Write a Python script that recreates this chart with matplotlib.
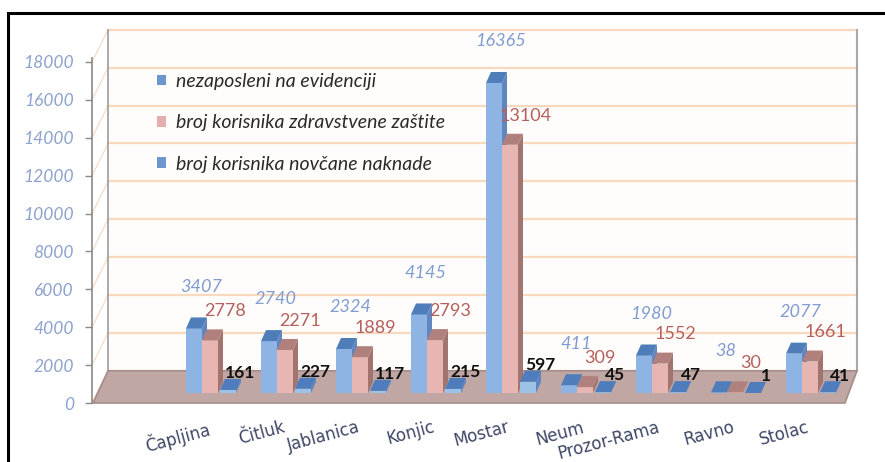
import matplotlib
matplotlib.use("Agg")
import matplotlib.pyplot as plt
from matplotlib.patches import Polygon, Rectangle, Patch

# data
opcine = ['Čapljina', 'Čitluk', 'Jablanica', 'Konjic', 'Mostar',
          'Neum', 'Prozor-Rama', 'Ravno', 'Stolac']
nezaposleni = [3407, 2740, 2324, 4145, 16365, 411, 1980, 38, 2077]
zdravstvena = [2778, 2271, 1889, 2793, 13104, 309, 1552, 30, 1661]
novcana = [161, 227, 117, 215, 597, 45, 47, 1, 41]
serije = ['nezaposleni na evidenciji',
          'broj korisnika zdravstvene zaštite',
          'broj korisnika novčane naknade']
y_ticks = list(range(0, 18001, 2000))

# pixel scale of the original picture (front axis)
PX_PER_CAT = 75.0
PX_PER_VAL = 341.0 / 18000
X0_PX = 211.0
Y0_PX = 403.0
W, H = 885, 462


def px(v):
    return v / PX_PER_CAT


def pv(v):
    return v / PX_PER_VAL


fig = plt.figure(figsize=(W / 100, H / 100), dpi=100)
ax = fig.add_axes([0, 0, 1, 1])
ax.set_xlim(-X0_PX / PX_PER_CAT, (W - X0_PX) / PX_PER_CAT)
ax.set_ylim(-(H - Y0_PX) / PX_PER_VAL, Y0_PX / PX_PER_VAL)
ax.patch.set_alpha(0)

# walls / floor
depth_x, depth_y = px(16), 1700
ax_x = px(92 - X0_PX)
wall_l, wall_r = ax_x + depth_x, px(857 - X0_PX)
wall_top = y_ticks[-1] + depth_y
ax.add_patch(Rectangle((wall_l, depth_y), wall_r - wall_l, wall_top - depth_y,
                       facecolor='#FFFDFB', edgecolor='none', zorder=0))
for t in y_ticks:
    ax.plot([wall_l, wall_r], [t + depth_y, t + depth_y], color='#F9D9BD', lw=1.6, zorder=1)
    ax.plot([ax_x, wall_l], [t, t + depth_y], color='#F6D8C0', lw=0.8, zorder=1)
ax.plot([wall_l, wall_l], [depth_y, wall_top], color='#9C9C9C', lw=1.2, zorder=1)
ax.plot([wall_r, wall_r], [depth_y, wall_top], color='#A8A8A8', lw=1.5, zorder=1)

floor_fl, floor_fr = px(93 - X0_PX), px(845 - X0_PX)
ax.add_patch(Polygon([(floor_fl, 0), (floor_fr, 0), (wall_r, depth_y), (wall_l, depth_y)],
                     closed=True, facecolor='#C0A7A3', edgecolor='#A58E8A', lw=1.2, zorder=2))

# 3d-like bars
bw = px(16)
bdx, bdy = px(5), pv(11)
base = pv(10)
styles = [
    (px(-25), '#8DB4E2', '#4F7DBA', '#5F86BF'),
    (px(-9), '#E8B6B2', '#B0807C', '#A27470'),
    (px(9), '#9CC2E8', '#4E7CBD', '#5A86C2'),
]
series = [nezaposleni, zdravstvena, novcana]
z = 3
for i in range(len(opcine)):
    for (off, front, top, side), vals in zip(styles, series):
        x0 = i + off
        y1 = base + vals[i]
        ax.add_patch(Rectangle((x0, base), bw, vals[i], facecolor=front, edgecolor='none', zorder=z))
        ax.add_patch(Polygon([(x0 + bw, base), (x0 + bw + bdx, base + bdy),
                              (x0 + bw + bdx, y1 + bdy), (x0 + bw, y1)],
                             closed=True, facecolor=side, edgecolor='none', zorder=z))
        ax.add_patch(Polygon([(x0, y1), (x0 + bw, y1), (x0 + bw + bdx, y1 + bdy), (x0 + bdx, y1 + bdy)],
                             closed=True, facecolor=top, edgecolor='none', zorder=z))
        z += 1

# value labels
lab_font = 'Lato'
for i in range(len(opcine)):
    ax.annotate(str(nezaposleni[i]), (i + styles[0][0] + bw / 2, base + nezaposleni[i]),
                xytext=(5, 30), textcoords='offset points', ha='center', va='center',
                fontsize=13, style='italic', color='#7F9CD3', family=lab_font, zorder=50)
    ax.annotate(str(zdravstvena[i]), (i + styles[1][0] + bw / 2, base + zdravstvena[i]),
                xytext=(11, 21), textcoords='offset points', ha='center', va='center',
                fontsize=13, color='#B5605C', family=lab_font, zorder=50)
    ax.annotate(str(novcana[i]), (i + styles[2][0] + bw / 2, base + novcana[i]),
                xytext=(9, 12), textcoords='offset points', ha='center', va='center',
                fontsize=12.5, fontweight='bold', color='#111111', family=lab_font, zorder=50)

# axes
for s in ['top', 'right', 'bottom']:
    ax.spines[s].set_visible(False)
ax.spines['left'].set_position(('data', ax_x))
ax.spines['left'].set_bounds(0, 18200)
ax.spines['left'].set_color('#8A8A8A')
ax.spines['left'].set_linewidth(1.2)
ax.spines['left'].set_zorder(2)
ax.set_yticks(y_ticks)
ax.set_yticklabels([str(t) for t in y_ticks])
ax.tick_params(axis='y', direction='out', length=5, width=1, color='#8A8A8A', pad=8,
               labelsize=12.5, labelcolor='#8DA2CF')
for t in ax.get_yticklabels():
    t.set_fontstyle('italic')
    t.set_family(lab_font)

ax.spines['bottom'].set_position(('data', 0))
ax.set_xticks([i - px(4) for i in range(len(opcine))])
ax.set_xticklabels(opcine, rotation=15, ha='right', va='top', rotation_mode='anchor')
ax.tick_params(axis='x', length=0, pad=11, labelsize=12, labelcolor='#3F4766')
for t in ax.get_xticklabels():
    t.set_family('DejaVu Sans')

handles = [Patch(facecolor=c, edgecolor='none') for c in ['#6F95CF', '#E3AFAD', '#6F95CF']]
leg = ax.legend(handles, serije, loc='upper left', bbox_to_anchor=(157 / W, 1 - 73 / H),
                frameon=False, borderpad=0, borderaxespad=0,
                handlelength=0.45, handleheight=0.45, handletextpad=0.55,
                labelspacing=1.25, prop={'family': lab_font, 'style': 'italic', 'size': 14})
for t in leg.get_texts():
    t.set_color('#2A2A2A')
leg.set_zorder(60)

# outer frame
frame = Rectangle((8 / W, -0.1), 1.2, 1.1 - 13 / H, transform=fig.transFigure,
                  fill=False, edgecolor='black', lw=2.2, clip_on=False, zorder=100)
ax.add_artist(frame)

fig.savefig('out.png', dpi=100, facecolor='white')
